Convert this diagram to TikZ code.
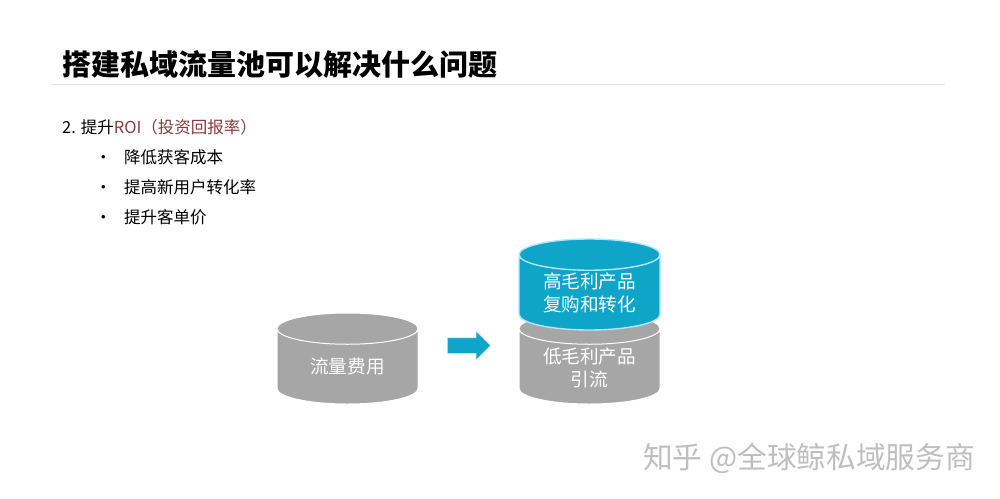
\documentclass[tikz,border=0pt]{standalone}
\usepackage{fontspec}
\setmainfont{Noto Sans CJK SC}
\usetikzlibrary{shapes.geometric,shapes.arrows}
\definecolor{poolgray}{HTML}{A6A6A6}
\definecolor{poolblue}{HTML}{0FA5C9}
\definecolor{roired}{HTML}{8C3A3A}
\tikzset{every node/.style={inner sep=0pt,anchor=west,text=black},
  pool/.style={cylinder,shape border rotate=90,aspect=0.42,anchor=shape center,draw=white,
    line width=1pt,cylinder uses custom fill,cylinder end fill=#1,cylinder body fill=#1,
    minimum width=141pt,minimum height=91pt,text=white,align=center,
    font=\fontsize{18.6}{23}\selectfont},
  poollabel/.style={anchor=center,text=white,align=center,font=\fontsize{18.6}{23}\selectfont},
  body/.style={font=\fontsize{16.5}{20}\selectfont}}

\begin{document}
\begin{tikzpicture}[x=1pt,y=-1pt]
\useasboundingbox (0,0) rectangle (1000,498);
      \node[font=\fontsize{29}{32}\selectfont\bfseries] (title) at (62,64) {搭建私域流量池可以解决什么问题};
      \coordinate (ruleL) at (50,84);
      \coordinate (ruleR) at (945,84);
      \draw[black!10] (ruleL) -- (ruleR);

      \node[body] (head) at (62,127) {2. 提升\textcolor{roired}{ROI（投资回报率）}};
      \node[body] (dotA) at (95,159) {•};
      \node[body] (dotB) at (95,189) {•};
      \node[body] (dotC) at (95,219) {•};
      \node[body] (itemA) at (124,157) {降低获客成本};
      \node[body] (itemB) at (124,187) {提高新用户转化率};
      \node[body] (itemC) at (124,217) {提升客单价};

      \node[pool=poolgray] (cost) at (347.5,358.5) {流量费用};
      \node[pool=poolgray] (low) at (589.5,358.5) {\phantom{流量费用}};
      \node[pool=poolblue,draw=cyan!30,line width=1.4pt] (high) at (589.5,284.5) {\phantom{流量费用}};
      \node[poollabel] (lowText) at (589.5,368) {低毛利产品\\引流};
      \node[poollabel] (highText) at (589.5,293) {高毛利产品\\复购和转化};

      \node[single arrow,fill=poolblue,draw=cyan!25,line width=0.5pt,minimum width=28pt,minimum height=43pt,
        single arrow head extend=6.5pt,single arrow head indent=0pt,text height=15pt,anchor=center] (arrow) at (465,345.5) {};

      \node[font=\fontsize{29.7}{32}\selectfont,text=black!25] (mark) at (643,458) {知乎 @全球鲸私域服务商};
\end{tikzpicture}
\end{document}
